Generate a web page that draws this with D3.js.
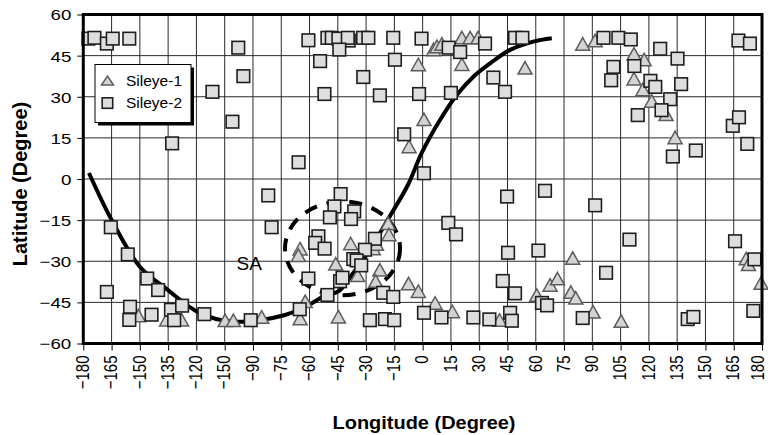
<!DOCTYPE html>
<html lang="en">
<head>
<meta charset="UTF-8" />
<title>Sileye positions</title>
<script src="https://d3js.org/d3.v7.min.js"></script>
<style>
  body { margin: 0; background: #fff; }
  svg { display: block; font-family: "Liberation Sans", Arial, sans-serif; }
  .grid line { stroke: #2a2a2a; stroke-width: 1; }
  .tri { fill: #d4d4d4; stroke: #5c5c5c; stroke-width: 1.5; }
  .sq { fill: #dedede; stroke: #1e1e1e; stroke-width: 1.6; }
</style>
</head>
<body>
<script>
// tick labels (the reference really prints -150 twice)
const xTickValues = [-180, -165, -150, -135, -120, -105, -90, -75, -60, -45, -30, -15, 0, 15, 30, 45, 60, 75, 90, 105, 120, 135, 150, 165, 180];
const xTickLabels = ["−180", "−165", "−150", "−135", "−120", "−150", "−90", "−75", "−60", "−45", "−30", "−15", "0", "15", "30", "45", "60", "75", "90", "105", "120", "135", "150", "165", "180"];
const yTickValues = [60, 45, 30, 15, 0, -15, -30, -45, -60];
const yTickLabels = ["60", "45", "30", "15", "0", "−15", "−30", "−45", "−60"];

const seriesNames = ["Sileye-1", "Sileye-2"];

// Sileye-1 [longitude, latitude]
const sileye1 = [
  [5.8, 47.0], [7.6, 48.1], [10.2, 49.0], [20.8, 51.3], [25.2, 51.3], [29.4, 51.3],
  [-2.3, 41.5], [20.8, 41.6], [0.7, 21.5], [-7.2, 11.6],
  [54.3, 40.3], [84.9, 49.0], [91.5, 50.2], [112.1, 45.4], [117.5, 43.3], [112.1, 36.3],
  [116.8, 32.4], [121.5, 28.2], [129.1, 23.3], [133.9, 14.9],
  [-150.8, -50.1], [-135.8, -51.6], [-127.9, -51.6], [-104.8, -51.8], [-100.4, -51.8], [-85.4, -50.6],
  [-65.0, -25.7], [-65.9, -28.1], [-38.2, -23.8], [-46.1, -31.2], [-34.5, -35.4], [-22.7, -33.4],
  [-24.9, -37.5], [-18.3, -16.4], [-17.9, -20.5], [-26.2, -25.6], [-24.5, -24.0], [-62.3, -44.9],
  [-65.0, -51.2], [-44.7, -50.5], [-7.5, -38.4], [-2.3, -41.2],
  [6.6, -45.5], [15.8, -48.6], [40.8, -51.7], [60.5, -42.6], [67.6, -38.9], [71.5, -36.6],
  [78.6, -41.5], [81.2, -43.6], [79.6, -29.1], [90.4, -48.7], [105.3, -52.1],
  [171.6, -29.3], [172.8, -31.4], [179.5, -38.2]
];

// Sileye-2 [longitude, latitude]
const sileye2 = [
  [-177.3, 51.2], [-174.1, 51.5], [-167.5, 49.4], [-164.4, 51.2], [-155.6, 51.2],
  [-97.8, 47.9], [-95.1, 37.5], [-111.5, 31.8], [-100.9, 20.9], [-132.9, 13.0],
  [-60.6, 50.6], [-54.4, 43.0], [-50.5, 51.5], [-48.2, 51.5], [-44.7, 51.2], [-39.2, 50.5], [-39.7, 51.5],
  [-44.2, 47.2], [-31.6, 51.5], [-28.8, 51.5], [-15.6, 51.5], [-0.6, 51.2], [-14.7, 43.5],
  [-31.5, 37.2], [-52.1, 31.0], [-22.7, 30.5], [-1.9, 31.0], [15.0, 31.4], [13.8, 47.9],
  [19.9, 46.3], [33.1, 49.4], [37.5, 37.0], [43.7, 31.8], [-9.8, 16.3], [-65.8, 6.1], [0.7, 2.1],
  [49.0, 51.5], [52.9, 51.5], [95.9, 51.5], [103.8, 51.5], [110.4, 50.9], [126.0, 47.5],
  [135.2, 43.9], [101.2, 40.9], [100.0, 36.0], [112.3, 41.2], [120.8, 35.8], [123.4, 33.6],
  [137.1, 34.6], [131.3, 29.1], [126.7, 25.1], [114.1, 23.3], [167.5, 50.5], [173.6, 49.4],
  [164.5, 19.4], [167.8, 22.5], [172.2, 12.8], [144.9, 10.4], [132.7, 8.2],
  [-165.4, -17.6], [-156.4, -27.5], [-167.5, -41.2], [-146.1, -36.3], [-140.3, -40.5],
  [-155.2, -46.6], [-155.6, -51.4], [-143.8, -49.5], [-133.5, -47.7], [-127.6, -46.2],
  [-131.8, -51.5], [-115.8, -49.3], [-91.2, -51.5], [-81.9, -6.0], [-80.1, -17.6],
  [-43.5, -5.5], [-46.8, -10.0], [-49.2, -14.0], [-36.3, -11.8], [-38.0, -14.6], [-55.3, -20.9],
  [-57.0, -23.3], [-52.0, -25.4], [-25.3, -21.8], [-30.6, -25.8], [-36.8, -29.2], [-35.0, -29.7],
  [-32.6, -31.5], [-43.8, -37.3], [-42.5, -36.0], [-60.6, -36.3], [-50.5, -42.3], [-65.2, -47.5],
  [-20.9, -41.5], [-15.6, -43.0], [-28.0, -51.5], [-20.0, -51.1], [-15.1, -51.5],
  [13.6, -16.0], [17.7, -20.2], [0.7, -48.8], [10.0, -50.5], [26.9, -50.5], [35.4, -51.2],
  [46.4, -48.8], [47.3, -51.7], [42.5, -37.2], [49.0, -41.7], [44.8, -6.4], [45.3, -26.9],
  [64.9, -4.3], [91.5, -9.6], [61.4, -26.1], [109.7, -22.1], [165.7, -22.7], [176.0, -29.3],
  [97.3, -34.2], [63.3, -45.2], [66.0, -46.1], [84.9, -50.7], [140.6, -51.1], [143.6, -50.3],
  [175.4, -48.1]
];

// thick black curve
const curve = [
  [-177, 2.2], [-165, -14.9], [-150, -32], [-136, -40], [-118, -49], [-101, -52], [-86, -51.4],
  [-73, -49.6], [-65, -47.5], [-58.8, -45.3], [-51.8, -42.5], [-44.7, -41], [-37.6, -35],
  [-29.7, -27.7], [-18.2, -14.5], [-7.7, -2], [-0.5, 9.5], [9.2, 21.5], [18.1, 30.6],
  [26.9, 37.3], [35.8, 42.2], [46.4, 47.1], [58.7, 50.1], [68.5, 51.3]
];

// dashed SA ellipse: centre and half axes, in degrees
const saCenter = [-42.5, -25.3];
const saRadius = [30.5, 17.1];

const width = 768, height = 435;
const x = d3.scaleLinear().domain([-180, 180]).range([83.3, 762]);
const y = d3.scaleLinear().domain([-60, 60]).range([343.5, 14.5]);

const svg = d3.select("body").append("svg")
  .attr("width", width).attr("height", height);

// grid
const grid = svg.append("g").attr("class", "grid");
grid.selectAll(".v").data(xTickValues.slice(1, -1)).enter().append("line")
  .attr("x1", d => x(d)).attr("x2", d => x(d))
  .attr("y1", y(60)).attr("y2", y(-60));
grid.selectAll(".h").data(yTickValues.slice(1, -1)).enter().append("line")
  .attr("x1", x(-180)).attr("x2", x(180))
  .attr("y1", d => y(d)).attr("y2", d => y(d));

// curve
const line = d3.line().x(d => x(d[0])).y(d => y(d[1])).curve(d3.curveCatmullRom);
svg.append("path").datum(curve)
  .attr("d", line)
  .attr("fill", "none").attr("stroke", "#000").attr("stroke-width", 4);

// SA ellipse
svg.append("ellipse")
  .attr("cx", x(saCenter[0])).attr("cy", y(saCenter[1]))
  .attr("rx", x(saCenter[0] + saRadius[0]) - x(saCenter[0]))
  .attr("ry", y(saCenter[1] - saRadius[1]) - y(saCenter[1]))
  .attr("fill", "none").attr("stroke", "#000").attr("stroke-width", 4)
  .attr("stroke-dasharray", "13 10");

svg.append("text")
  .attr("x", x(saCenter[0]) - 106).attr("y", 270)
  .attr("font-size", 19).text("SA");

// markers
const triPath = "M0,-7L7,5.5L-7,5.5Z";
svg.append("g").selectAll("path").data(sileye1).enter().append("path")
  .attr("class", "tri").attr("d", triPath)
  .attr("transform", d => `translate(${x(d[0])},${y(d[1])})`);

const sq = 12.6;
svg.append("g").selectAll("rect").data(sileye2).enter().append("rect")
  .attr("class", "sq")
  .attr("x", d => x(d[0]) - sq / 2).attr("y", d => y(d[1]) - sq / 2)
  .attr("width", sq).attr("height", sq);

// frame
svg.append("rect")
  .attr("x", x(-180)).attr("y", y(60))
  .attr("width", x(180) - x(-180)).attr("height", y(-60) - y(60))
  .attr("fill", "none").attr("stroke", "#000").attr("stroke-width", 3);

// y axis
const yAxis = svg.append("g").attr("transform", `translate(${x(-180)},0)`)
  .call(d3.axisLeft(y).tickValues(yTickValues).tickSize(6).tickFormat((d, i) => yTickLabels[i]));
yAxis.select(".domain").remove();
yAxis.selectAll("line").attr("stroke", "#000");
yAxis.selectAll("text")
  .attr("x", 0).attr("dy", "0.36em")
  .attr("transform", "translate(-12,0) scale(1.25,1)")
  .attr("font-size", 15).attr("font-family", "Liberation Sans, Arial, sans-serif").attr("fill", "#000");

// x axis
const xAxis = svg.append("g").attr("transform", `translate(0,${y(-60)})`)
  .call(d3.axisBottom(x).tickValues(xTickValues).tickSize(7).tickFormat((d, i) => xTickLabels[i]));
xAxis.select(".domain").remove();
xAxis.selectAll("line").attr("stroke", "#000");
xAxis.selectAll("text")
  .attr("x", -12).attr("y", 0)
  .attr("dy", (d, i) => i === xTickValues.length - 1 ? "0.08em" : "0.28em")
  .attr("text-anchor", "end")
  .attr("transform", "scale(1.25,1) rotate(-90)")
  .attr("font-size", 15).attr("font-family", "Liberation Sans, Arial, sans-serif").attr("fill", "#000");

// titles
svg.append("text")
  .attr("x", 424).attr("y", 429).attr("text-anchor", "middle")
  .attr("font-weight", "bold").attr("font-size", 18)
  .attr("textLength", 183).attr("lengthAdjust", "spacingAndGlyphs")
  .text("Longitude (Degree)");
svg.append("text")
  .attr("transform", "translate(27,184) rotate(-90)").attr("text-anchor", "middle")
  .attr("font-weight", "bold").attr("font-size", 20)
  .text("Latitude (Degree)");

// legend
const lg = svg.append("g").attr("transform", "translate(95,64.5)");
lg.append("rect").attr("x", 3).attr("y", 3).attr("width", 96).attr("height", 58).attr("fill", "#000");
lg.append("rect").attr("x", 0).attr("y", 0).attr("width", 96).attr("height", 58)
  .attr("fill", "#fff").attr("stroke", "#000").attr("stroke-width", 1);
lg.append("path").attr("class", "tri").attr("d", "M0,-5L6,4L-6,4Z")
  .attr("transform", "translate(12.5,16.5)");
lg.append("rect").attr("class", "sq").attr("x", 7.2).attr("y", 33.3).attr("width", 10.5).attr("height", 10.5);
lg.selectAll(".lt").data(seriesNames).enter().append("text")
  .attr("x", 31).attr("y", (d, i) => 21.5 + i * 22)
  .attr("font-size", 15.5).text(d => d);
</script>
</body>
</html>
